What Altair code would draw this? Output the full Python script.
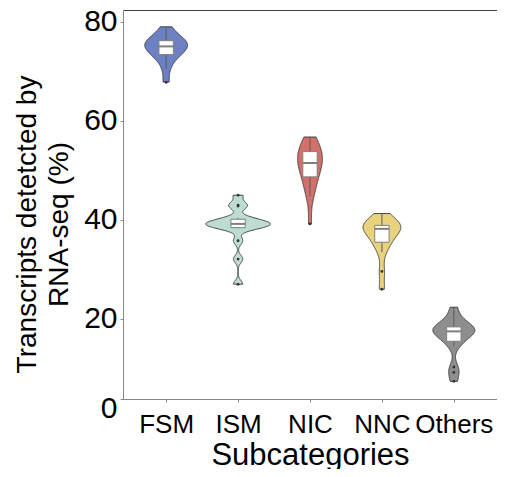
import altair as alt
import pandas as pd

categories = ["FSM", "ISM", "NIC", "NNC", "Others"]
colors = ["#6C80C2", "#BDDCD2", "#D4706B", "#E9D27C", "#8E8E8E"]

fsm = [79.0, 77.8, 77.0, 76.5, 76.1, 75.8, 75.5, 75.2, 74.9, 74.5, 74.0, 73.5, 73.1, 72.2, 70.5, 67.8]
ism = [45.0, 43.0, 42.8, 40.4, 39.9, 39.6, 39.4, 39.2, 39.0, 38.8, 38.6, 38.3, 35.8, 32.1, 27.0]
nic = [56.8, 55.6, 54.9, 54.3, 53.8, 53.2, 52.6, 52.0, 51.5, 50.9, 50.3, 49.6, 48.7, 47.5, 46.0, 44.8, 39.2]
nnc = [41.3, 40.2, 39.4, 39.0, 38.8, 38.6, 38.4, 38.2, 37.5, 36.5, 35.8, 35.2, 33.5, 29.6, 26.0]
others = [22.4, 20.6, 19.5, 18.8, 18.4, 18.1, 17.9, 17.7, 17.5, 17.2, 16.8, 16.2, 15.5, 14.5, 10.3, 9.2, 7.4]

y_ticks = [20, 40, 60, 80]
y_min, y_max = 3.84, 82.4
x_title = "Subcategories"
y_title = ["Transcripts detetcted by", "RNA-seq (%)"]

rows = []
for i, (c, vals) in enumerate(zip(categories, [fsm, ism, nic, nnc, others])):
    for v in vals:
        rows.append({"cat": c, "idx": i, "value": v})
df = pd.DataFrame(rows)

FONT = "Liberation Sans, Arial, Helvetica, sans-serif"

xscale = alt.Scale(domain=[-0.6, len(categories) - 0.4], nice=False, zero=False)
yscale = alt.Scale(domain=[y_min, y_max], nice=False, zero=False)

names_js = "[" + ",".join("'" + c + "'" for c in categories) + "]"
xaxis = alt.Axis(values=list(range(len(categories))), labelExpr=names_js + "[datum.value]",
                 title=x_title, grid=False, tickSize=3, labelPadding=9, titlePadding=3,
                 labelFontSize=26, titleFontSize=31, labelAngle=0, labelOverlap=False)
yaxis = alt.Axis(values=[y_min] + y_ticks, labelExpr="datum.value < 10 ? '0' : datum.label",
                 labelBaseline={"condition": {"test": "datum.value < 10", "value": "top"},
                                "value": "middle"},
                 labelOffset={"condition": {"test": "datum.value < 10", "value": -6},
                              "value": 0},
                 labelOverlap=False, title=y_title, grid=False, tickSize=3, labelPadding=3,
                 titlePadding=10, labelFontSize=30, titleFontSize=28, titleLineHeight=32,
                 titleY=214)

base = alt.Chart(df)

violin = base.transform_joinaggregate(
    gmin="min(value)", gmax="max(value)", groupby=["cat"]
).transform_density(
    "value", groupby=["cat", "idx", "gmin", "gmax"], steps=1200, as_=["value", "density"]
).transform_filter(
    "datum.value >= datum.gmin && datum.value <= datum.gmax"
).transform_joinaggregate(
    maxd="max(density)"
).transform_calculate(
    lo="datum.idx - 0.45 * datum.density / datum.maxd",
    hi="datum.idx + 0.45 * datum.density / datum.maxd",
).mark_area(orient="horizontal", stroke="#333333", strokeWidth=0.9, opacity=1).encode(
    y=alt.Y("value:Q", scale=yscale, axis=yaxis),
    x=alt.X("lo:Q", scale=xscale, axis=xaxis),
    x2="hi:Q",
    fill=alt.Fill("cat:N", scale=alt.Scale(domain=categories, range=colors), legend=None),
    detail="cat:N",
)

stats = base.transform_joinaggregate(
    q1="q1(value)", q3="q3(value)", med="median(value)", groupby=["cat", "idx"]
).transform_calculate(
    lf="datum.q1 - 1.5 * (datum.q3 - datum.q1)",
    uf="datum.q3 + 1.5 * (datum.q3 - datum.q1)",
)

inl = stats.transform_filter(
    "datum.value >= datum.lf && datum.value <= datum.uf"
).transform_aggregate(
    wmin="min(value)", wmax="max(value)", groupby=["cat", "idx", "q1", "q3", "med"]
).transform_calculate(bl="datum.idx - 0.1", br="datum.idx + 0.1")

whisk = inl.mark_rule(color="#5a5a5a", strokeWidth=1).encode(
    x=alt.X("idx:Q", scale=xscale, axis=xaxis),
    y=alt.Y("wmin:Q", scale=yscale, axis=yaxis), y2="wmax:Q")
box = inl.mark_rect(fill="white", stroke="#808080", strokeWidth=1).encode(
    x=alt.X("bl:Q", scale=xscale, axis=xaxis), x2="br:Q",
    y=alt.Y("q1:Q", scale=yscale, axis=yaxis), y2="q3:Q")
med = inl.mark_rule(color="#808080", strokeWidth=2).encode(
    x=alt.X("bl:Q", scale=xscale, axis=xaxis), x2="br:Q",
    y=alt.Y("med:Q", scale=yscale, axis=yaxis))
outl = stats.transform_filter(
    "datum.value < datum.lf || datum.value > datum.uf"
).mark_circle(size=8, color="#333333", opacity=1).encode(
    x=alt.X("idx:Q", scale=xscale, axis=xaxis),
    y=alt.Y("value:Q", scale=yscale, axis=yaxis))

chart = alt.layer(violin, whisk, box, med, outl).properties(
    width=374, height=389,
    autosize=alt.AutoSizeParams(type="none"),
    padding={"left": 115, "top": 2, "right": 0, "bottom": 70},
).configure_view(
    stroke="#444444", strokeWidth=1
).configure_axis(
    labelFont=FONT, titleFont=FONT, labelColor="#000000", titleColor="#000000",
    domainColor="#888888", tickColor="#888888", titleFontWeight="normal",
)

chart.save("out.html", embed_options={"renderer": "svg", "actions": False})
